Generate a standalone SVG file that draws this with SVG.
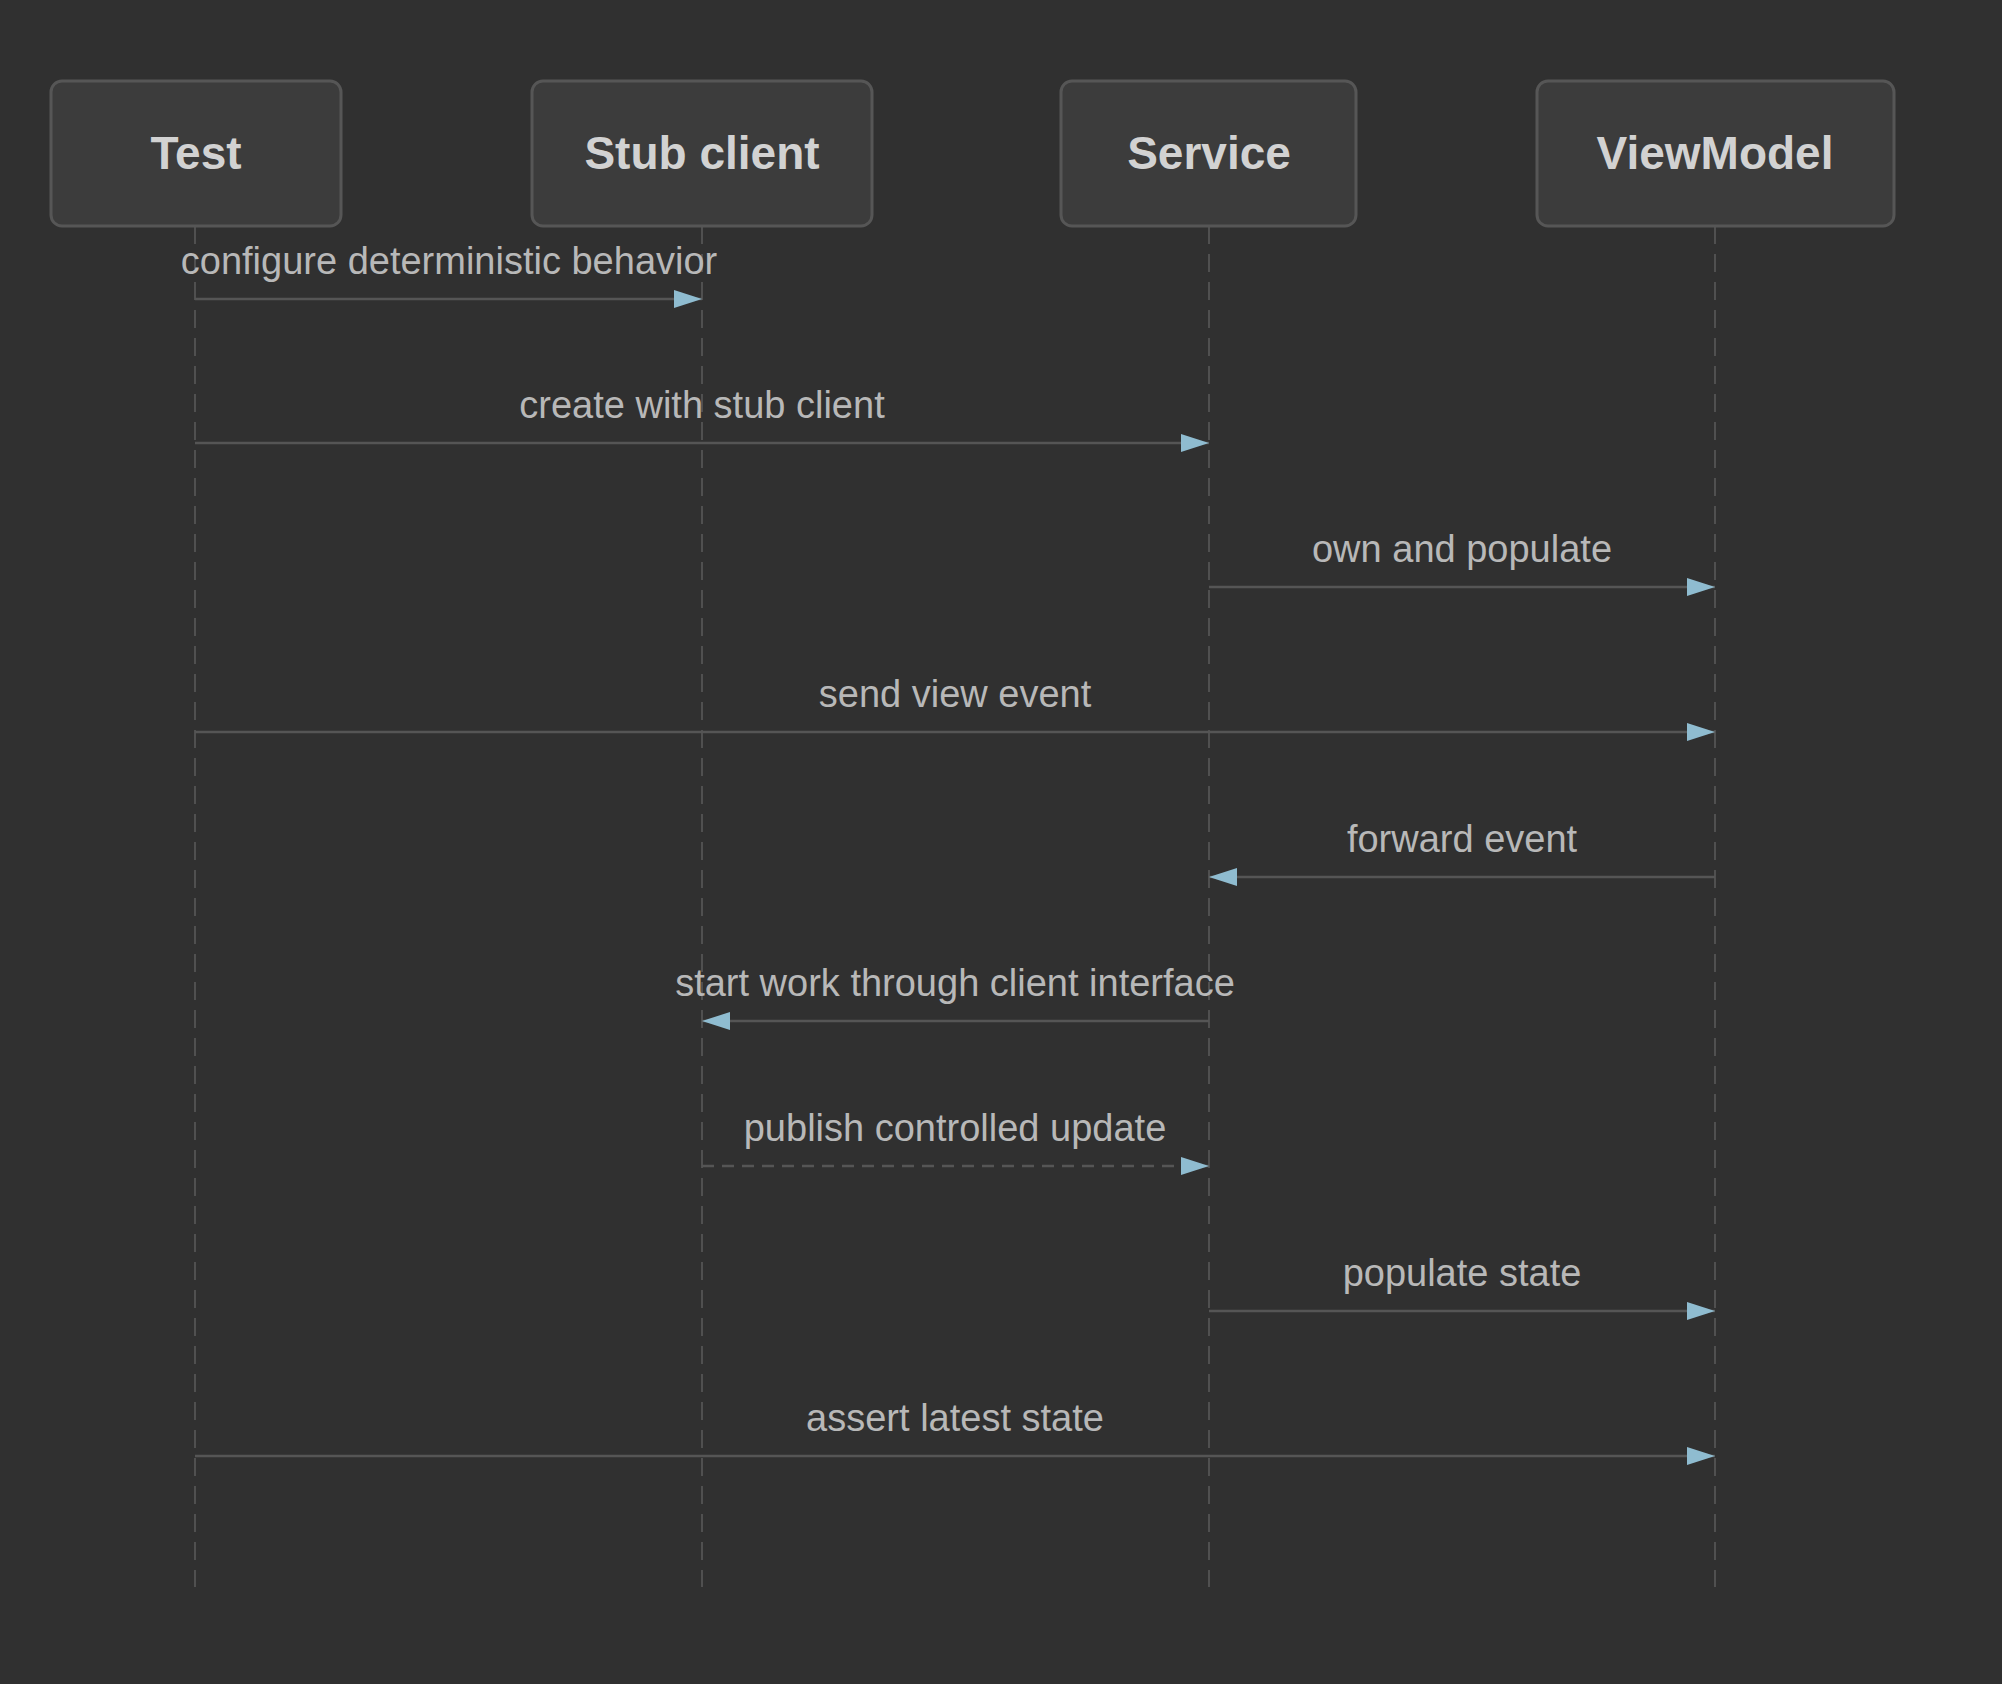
<svg xmlns="http://www.w3.org/2000/svg" width="2002" height="1684" viewBox="0 0 2002 1684">
<style>
.box{fill:#3c3c3c;stroke:#565656;stroke-width:3}
.ht{font-family:"Liberation Sans",Arial,sans-serif;font-size:46px;font-weight:bold;fill:#d2d2d2;text-anchor:middle}
.life{stroke:#505050;stroke-width:2;stroke-dasharray:18 10}
.msg{stroke:#555;stroke-width:2.5;fill:none}
.lbl{font-family:"Liberation Sans",Arial,sans-serif;font-size:38px;fill:#b8b8b8;text-anchor:middle}
</style>
<defs>
<marker id="ah" markerWidth="28" markerHeight="18" refX="28" refY="9" orient="auto" markerUnits="userSpaceOnUse"><path d="M0,0 L28,9 L0,18 Z" fill="#8fbcd0"/></marker>
</defs>
<rect width="2002" height="1684" fill="#303030"/>
<g id="lifelines">
<line class="life" x1="195" y1="226" x2="195" y2="1587"/>
<line class="life" x1="702" y1="226" x2="702" y2="1587"/>
<line class="life" x1="1209" y1="226" x2="1209" y2="1587"/>
<line class="life" x1="1715" y1="226" x2="1715" y2="1587"/>
</g>
<g id="test"><rect class="box" x="51" y="81" width="290" height="145" rx="11"/><text class="ht" x="196" y="169">Test</text></g>
<g id="stub"><rect class="box" x="532" y="81" width="340" height="145" rx="11"/><text class="ht" x="702" y="169">Stub client</text></g>
<g id="service"><rect class="box" x="1061" y="81" width="295" height="145" rx="11"/><text class="ht" x="1209" y="169">Service</text></g>
<g id="viewmodel"><rect class="box" x="1537" y="81" width="357" height="145" rx="11"/><text class="ht" x="1715" y="169">ViewModel</text></g>
<g id="connectors">
<line class="msg" x1="195" y1="299" x2="702" y2="299" marker-end="url(#ah)"/>
<text class="lbl" x="449" y="274">configure deterministic behavior</text>
<line class="msg" x1="195" y1="443" x2="1209" y2="443" marker-end="url(#ah)"/>
<text class="lbl" x="702" y="418">create with stub client</text>
<line class="msg" x1="1209" y1="587" x2="1715" y2="587" marker-end="url(#ah)"/>
<text class="lbl" x="1462" y="562">own and populate</text>
<line class="msg" x1="195" y1="732" x2="1715" y2="732" marker-end="url(#ah)"/>
<text class="lbl" x="955" y="707">send view event</text>
<line class="msg" x1="1715" y1="877" x2="1209" y2="877" marker-end="url(#ah)"/>
<text class="lbl" x="1462" y="852">forward event</text>
<line class="msg" x1="1209" y1="1021" x2="702" y2="1021" marker-end="url(#ah)"/>
<text class="lbl" x="955" y="996">start work through client interface</text>
<line class="msg" x1="702" y1="1166" x2="1209" y2="1166" stroke-dasharray="12 8" marker-end="url(#ah)"/>
<text class="lbl" x="955" y="1141">publish controlled update</text>
<line class="msg" x1="1209" y1="1311" x2="1715" y2="1311" marker-end="url(#ah)"/>
<text class="lbl" x="1462" y="1286">populate state</text>
<line class="msg" x1="195" y1="1456" x2="1715" y2="1456" marker-end="url(#ah)"/>
<text class="lbl" x="955" y="1431">assert latest state</text>
</g>
</svg>
